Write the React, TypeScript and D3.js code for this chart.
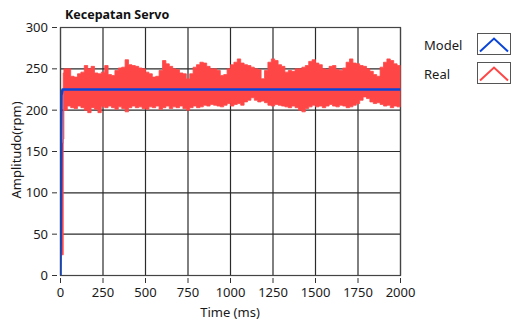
import React from "react";
import * as d3 from "d3";

const title = "Kecepatan Servo";
const xLabel = "Time (ms)";
const yLabel = "Amplitudo(rpm)";
const xTicks = [0, 250, 500, 750, 1000, 1250, 1500, 1750, 2000];
const yTicks = [0, 50, 100, 150, 200, 250, 300];
const seriesNames = ["Model", "Real"];
const seriesColors = ["#0a45d8", "#ff4646"];

// Model response (time ms, rpm)
const modelT = [0, 6, 12, 2000];
const modelV = [0, 218, 225, 225];

// Real response: dense noisy band, read as upper/lower envelopes
const realT = [
  0, 8, 16, 20, 40, 60, 80, 100, 120, 140, 160, 180, 200, 220, 240, 260, 280, 300, 320, 340, 360, 380,
  400, 420, 440, 460, 480, 500, 520, 540, 560, 580, 600, 620, 640, 660, 680, 700, 720, 740, 760, 780,
  800, 820, 840, 860, 880, 900, 920, 940, 960, 980, 1000, 1020, 1040, 1060, 1080, 1100, 1120, 1140,
  1160, 1180, 1200, 1220, 1240, 1260, 1280, 1300, 1320, 1340, 1360, 1380, 1400, 1420, 1440, 1460,
  1480, 1500, 1520, 1540, 1560, 1580, 1600, 1620, 1640, 1660, 1680, 1700, 1720, 1740, 1760, 1780,
  1800, 1820, 1840, 1860, 1880, 1900, 1920, 1940, 1960, 1980, 2000,
];
const realHi = [
  25, 160, 245, 250, 250, 241, 240, 244, 246, 254, 250, 253, 245, 244, 246, 254, 243, 242, 248, 251, 252, 261,
  255, 254, 253, 251, 250, 246, 244, 240, 241, 248, 260, 256, 253, 250, 249, 245, 244, 238, 244, 252,
  255, 258, 257, 253, 250, 250, 248, 242, 243, 250, 255, 258, 262, 257, 255, 254, 252, 250,
  249, 238, 248, 258, 262, 260, 255, 253, 246, 248, 247, 250, 250, 252, 254, 259,
  261, 257, 255, 250, 249, 253, 254, 249, 248, 251, 258, 262, 257, 256, 254, 253,
  250, 247, 243, 241, 252, 258, 262, 260, 256, 254, 252,
];
const realLo = [
  25, 25, 165, 200, 205, 203, 202, 205, 203, 200, 197, 203, 201, 197, 204, 203, 205, 203, 201, 204, 202, 198,
  203, 205, 203, 204, 202, 201, 204, 203, 205, 201, 203, 205, 202, 204, 203, 205, 202, 200, 203, 205,
  203, 204, 206, 205, 207, 206, 205, 204, 206, 208, 205, 207, 208, 206, 210, 212, 215, 212,
  210, 211, 209, 206, 205, 207, 206, 205, 204, 203, 205, 203, 200, 198, 202, 204,
  206, 204, 205, 203, 205, 207, 205, 204, 206, 205, 203, 204, 206, 208, 212, 216,
  214, 210, 208, 209, 207, 205, 206, 203, 205, 204, 206,
];

const W = 512;
const H = 324;
const font = "'Noto Sans', 'DejaVu Sans', sans-serif";

export default function App() {
  const left = 60.5;
  const right = 400.5;
  const top = 27.5;
  const bottom = 275.5;
  const x = d3.scaleLinear().domain([0, 2000]).range([left, right]);
  const y = d3.scaleLinear().domain([0, 300]).range([bottom, top]);

  const realData = realT.map((t, i) => ({ t, hi: realHi[i], lo: realLo[i] }));
  const area = d3
    .area<{ t: number; hi: number; lo: number }>()
    .x((d) => x(d.t))
    .y0((d) => y(d.lo))
    .y1((d) => y(d.hi))
    .curve(d3.curveStepAfter);
  const modelData = modelT.map((t, i) => ({ t, v: modelV[i] }));
  const line = d3
    .line<{ t: number; v: number }>()
    .x((d) => x(d.t))
    .y((d) => y(d.v));

  const gridColor = "#2b2b2b";
  const fs = 13;

  return (
    <svg
      width={W}
      height={H}
      style={{ position: "fixed", left: 0, top: 0, background: "#fff" }}
      fontFamily={font}
    >
      <rect x={0} y={0} width={W} height={H} fill="#fff" />
      <text x={65} y={19} fontSize={12.5} fontWeight="bold" fill="#111">
        {title}
      </text>
      {/* grid */}
      {xTicks.map((t) => (
        <line key={"gx" + t} x1={x(t)} x2={x(t)} y1={top} y2={bottom} stroke={gridColor} strokeWidth={1.2} />
      ))}
      {yTicks.map((t) => (
        <line key={"gy" + t} x1={left} x2={right} y1={y(t)} y2={y(t)} stroke={gridColor} strokeWidth={1.2} />
      ))}
      <rect x={left} y={top} width={right - left} height={bottom - top} fill="none" stroke="#444" strokeWidth={1.2} />
      {/* data */}
      <clipPath id="clip">
        <rect x={left} y={top} width={right - left} height={bottom - top} />
      </clipPath>
      <g clipPath="url(#clip)">
        <path d={area(realData) || ""} fill={seriesColors[1]} stroke={seriesColors[1]} strokeWidth={0.8} />
        <path d={line(modelData) || ""} fill="none" stroke={seriesColors[0]} strokeWidth={2.6} strokeLinejoin="round" />
      </g>
      {/* y axis */}
      {yTicks.map((t) => (
        <g key={"yt" + t}>
          <line x1={52} x2={57} y1={y(t)} y2={y(t)} stroke="#333" strokeWidth={1} />
          <text x={48} y={y(t) + 4.5} fontSize={fs} textAnchor="end" fill="#1a1a1a">
            {t}
          </text>
        </g>
      ))}
      {/* x axis */}
      {xTicks.map((t) => (
        <g key={"xt" + t}>
          <line x1={x(t)} x2={x(t)} y1={278} y2={283} stroke="#333" strokeWidth={1} />
          <text x={x(t)} y={297} fontSize={fs} textAnchor="middle" fill="#1a1a1a">
            {t}
          </text>
        </g>
      ))}
      <text x={230} y={317} fontSize={fs} textAnchor="middle" fill="#1a1a1a">
        {xLabel}
      </text>
      <text
        transform={`translate(21,150) rotate(-90)`}
        fontSize={fs}
        textAnchor="middle"
        fill="#1a1a1a"
      >
        {yLabel}
      </text>
      {/* legend */}
      {seriesNames.map((n, i) => {
        const by = 33.5 + i * 29;
        return (
          <g key={n}>
            <text x={424} y={by + 16} fontSize={fs} fill="#1a1a1a">
              {n}
            </text>
            <rect x={477.5} y={by} width={33} height={21} fill="#fff" stroke="#555" strokeWidth={1} />
            <polyline
              points={`480,${by + 18} 494,${by + 5} 508,${by + 18}`}
              fill="none"
              stroke={seriesColors[i]}
              strokeWidth={2}
            />
          </g>
        );
      })}
    </svg>
  );
}
